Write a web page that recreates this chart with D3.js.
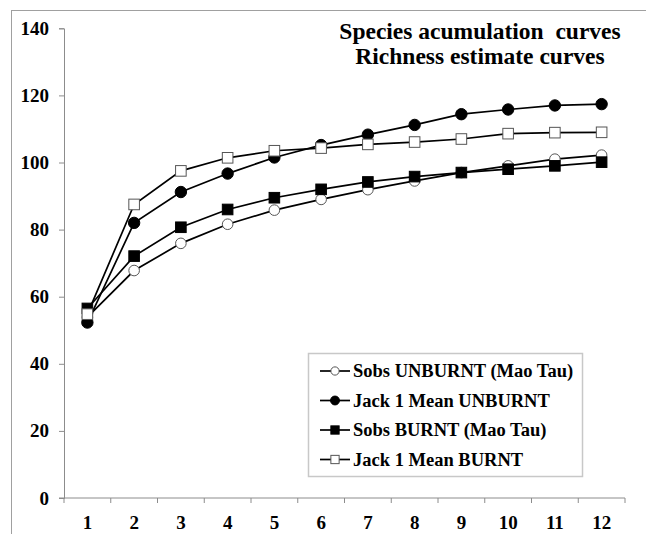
<!DOCTYPE html>
<html>
<head>
<meta charset="utf-8">
<script src="https://cdn.jsdelivr.net/npm/d3@7"></script>
<style>
  html, body { margin: 0; padding: 0; background: #fff; }
  svg { display: block; }
  text { font-family: "Liberation Serif", "Times New Roman", serif; font-weight: bold; }
</style>
</head>
<body>
<svg id="chart" width="646" height="534"></svg>
<script>
// samples (x categories)
const samples = [1, 2, 3, 4, 5, 6, 7, 8, 9, 10, 11, 12]

// species counts
const sobsUnburnt = [53.9, 67.8, 75.9, 81.6, 85.8, 89.0, 91.9, 94.5, 97.0, 99.0, 101.0, 102.2]
const jackUnburnt = [52.3, 82.0, 91.2, 96.7, 101.5, 105.2, 108.3, 111.2, 114.4, 115.8, 117.0, 117.4]
const sobsBurnt = [56.5, 72.1, 80.7, 86.0, 89.5, 92.0, 94.2, 95.8, 97.0, 98.0, 99.0, 100.1]
const jackBurnt = [54.8, 87.5, 97.5, 101.4, 103.5, 104.3, 105.4, 106.1, 107.0, 108.6, 108.9, 109.0]

const yTicks = [0, 20, 40, 60, 80, 100, 120, 140]
const titleLines = ['Species acumulation  curves', 'Richness estimate curves']

const series = [
  { name: 'Sobs UNBURNT (Mao Tau)', values: sobsUnburnt, marker: 'circle', filled: false },
  { name: 'Jack 1 Mean UNBURNT', values: jackUnburnt, marker: 'circle', filled: true },
  { name: 'Sobs BURNT (Mao Tau)', values: sobsBurnt, marker: 'square', filled: true },
  { name: 'Jack 1 Mean BURNT', values: jackBurnt, marker: 'square', filled: false }
]

const svg = d3.select('#chart')
const axisColor = '#8c8c8c'

// outer chart frame (clipped at right and bottom like the original)
svg.append('rect')
  .attr('x', 11.5).attr('y', 10.5)
  .attr('width', 700).attr('height', 600)
  .attr('fill', 'none')
  .attr('stroke', '#a0a0a0')
  .attr('stroke-width', 1)

const x = d3.scaleBand().domain(samples).range([64, 625])
const y = d3.scaleLinear().domain([0, 140]).range([498, 28.3])

// x axis: ticks on band boundaries, labels under band centres
const xAxisG = svg.append('g').attr('transform', `translate(0,${y(0)})`)
xAxisG.append('line')
  .attr('x1', x.range()[0] - 5).attr('x2', x.range()[1])
  .attr('stroke', axisColor)
xAxisG.selectAll('.xt')
  .data(d3.range(samples.length + 1))
  .join('line')
  .attr('x1', i => x.range()[0] + i * x.step())
  .attr('x2', i => x.range()[0] + i * x.step())
  .attr('y1', 0).attr('y2', 5)
  .attr('stroke', axisColor)
xAxisG.selectAll('.xl')
  .data(samples)
  .join('text')
  .attr('x', d => x(d) + x.bandwidth() / 2)
  .attr('y', 31)
  .attr('text-anchor', 'middle')
  .attr('font-size', 19)
  .text(d => d)

// y axis
const yAxis = d3.axisLeft(y).tickValues(yTicks).tickSize(5).tickPadding(10)
const yAxisG = svg.append('g').attr('transform', `translate(${x.range()[0]},0)`).call(yAxis)
yAxisG.select('.domain').attr('stroke', axisColor)
yAxisG.selectAll('.tick line').attr('stroke', axisColor)
yAxisG.selectAll('.tick text')
  .attr('fill', '#000')
  .attr('font-size', 19)
  .attr('font-family', '"Liberation Serif", "Times New Roman", serif')
  .attr('font-weight', 'bold')

// title
svg.append('g').selectAll('text')
  .data(titleLines)
  .join('text')
  .attr('x', 480)
  .attr('y', (d, i) => 39 + i * 25)
  .attr('text-anchor', 'middle')
  .attr('font-size', 23.5)
  .style('white-space', 'pre')
  .text(d => d)

function drawMarker(g, s, cx, cy, k = 1) {
  const stroke = s.filled ? '#000' : '#555'
  const fill = s.filled ? '#000' : '#fff'
  if (s.marker === 'circle') {
    g.append('circle')
      .attr('cx', cx).attr('cy', cy).attr('r', (s.filled ? 5.7 : 5.3) * k)
      .attr('fill', fill).attr('stroke', stroke).attr('stroke-width', 1)
  } else {
    const h = 5.3 * k
    g.append('rect')
      .attr('x', cx - h).attr('y', cy - h)
      .attr('width', 2 * h).attr('height', 2 * h)
      .attr('fill', fill).attr('stroke', stroke).attr('stroke-width', 1)
  }
}

const line = d3.line()
  .x((d, i) => x(samples[i]) + x.bandwidth() / 2)
  .y(d => y(d))

const plot = svg.append('g')
series.forEach(s => {
  const g = plot.append('g')
  g.append('path')
    .attr('d', line(s.values))
    .attr('fill', 'none')
    .attr('stroke', '#000')
    .attr('stroke-width', 1.7)
  s.values.forEach((v, i) => drawMarker(g, s, x(samples[i]) + x.bandwidth() / 2, y(v)))
})

// legend
const legend = svg.append('g').attr('transform', 'translate(308,353)')
legend.append('rect')
  .attr('x', 0.5).attr('y', 0.5)
  .attr('width', 274).attr('height', 123)
  .attr('fill', '#fff')
  .attr('stroke', '#c8c8c8')
  .attr('stroke-width', 1.5)
series.forEach((s, i) => {
  const row = legend.append('g').attr('transform', `translate(0,${18 + i * 29.5})`)
  row.append('line')
    .attr('x1', 12).attr('x2', 42)
    .attr('stroke', '#000').attr('stroke-width', 1.7)
  drawMarker(row, s, 27, 0, 0.78)
  row.append('text')
    .attr('x', 45).attr('y', 6)
    .attr('font-size', 18.5)
    .text(s.name)
})
</script>
</body>
</html>
